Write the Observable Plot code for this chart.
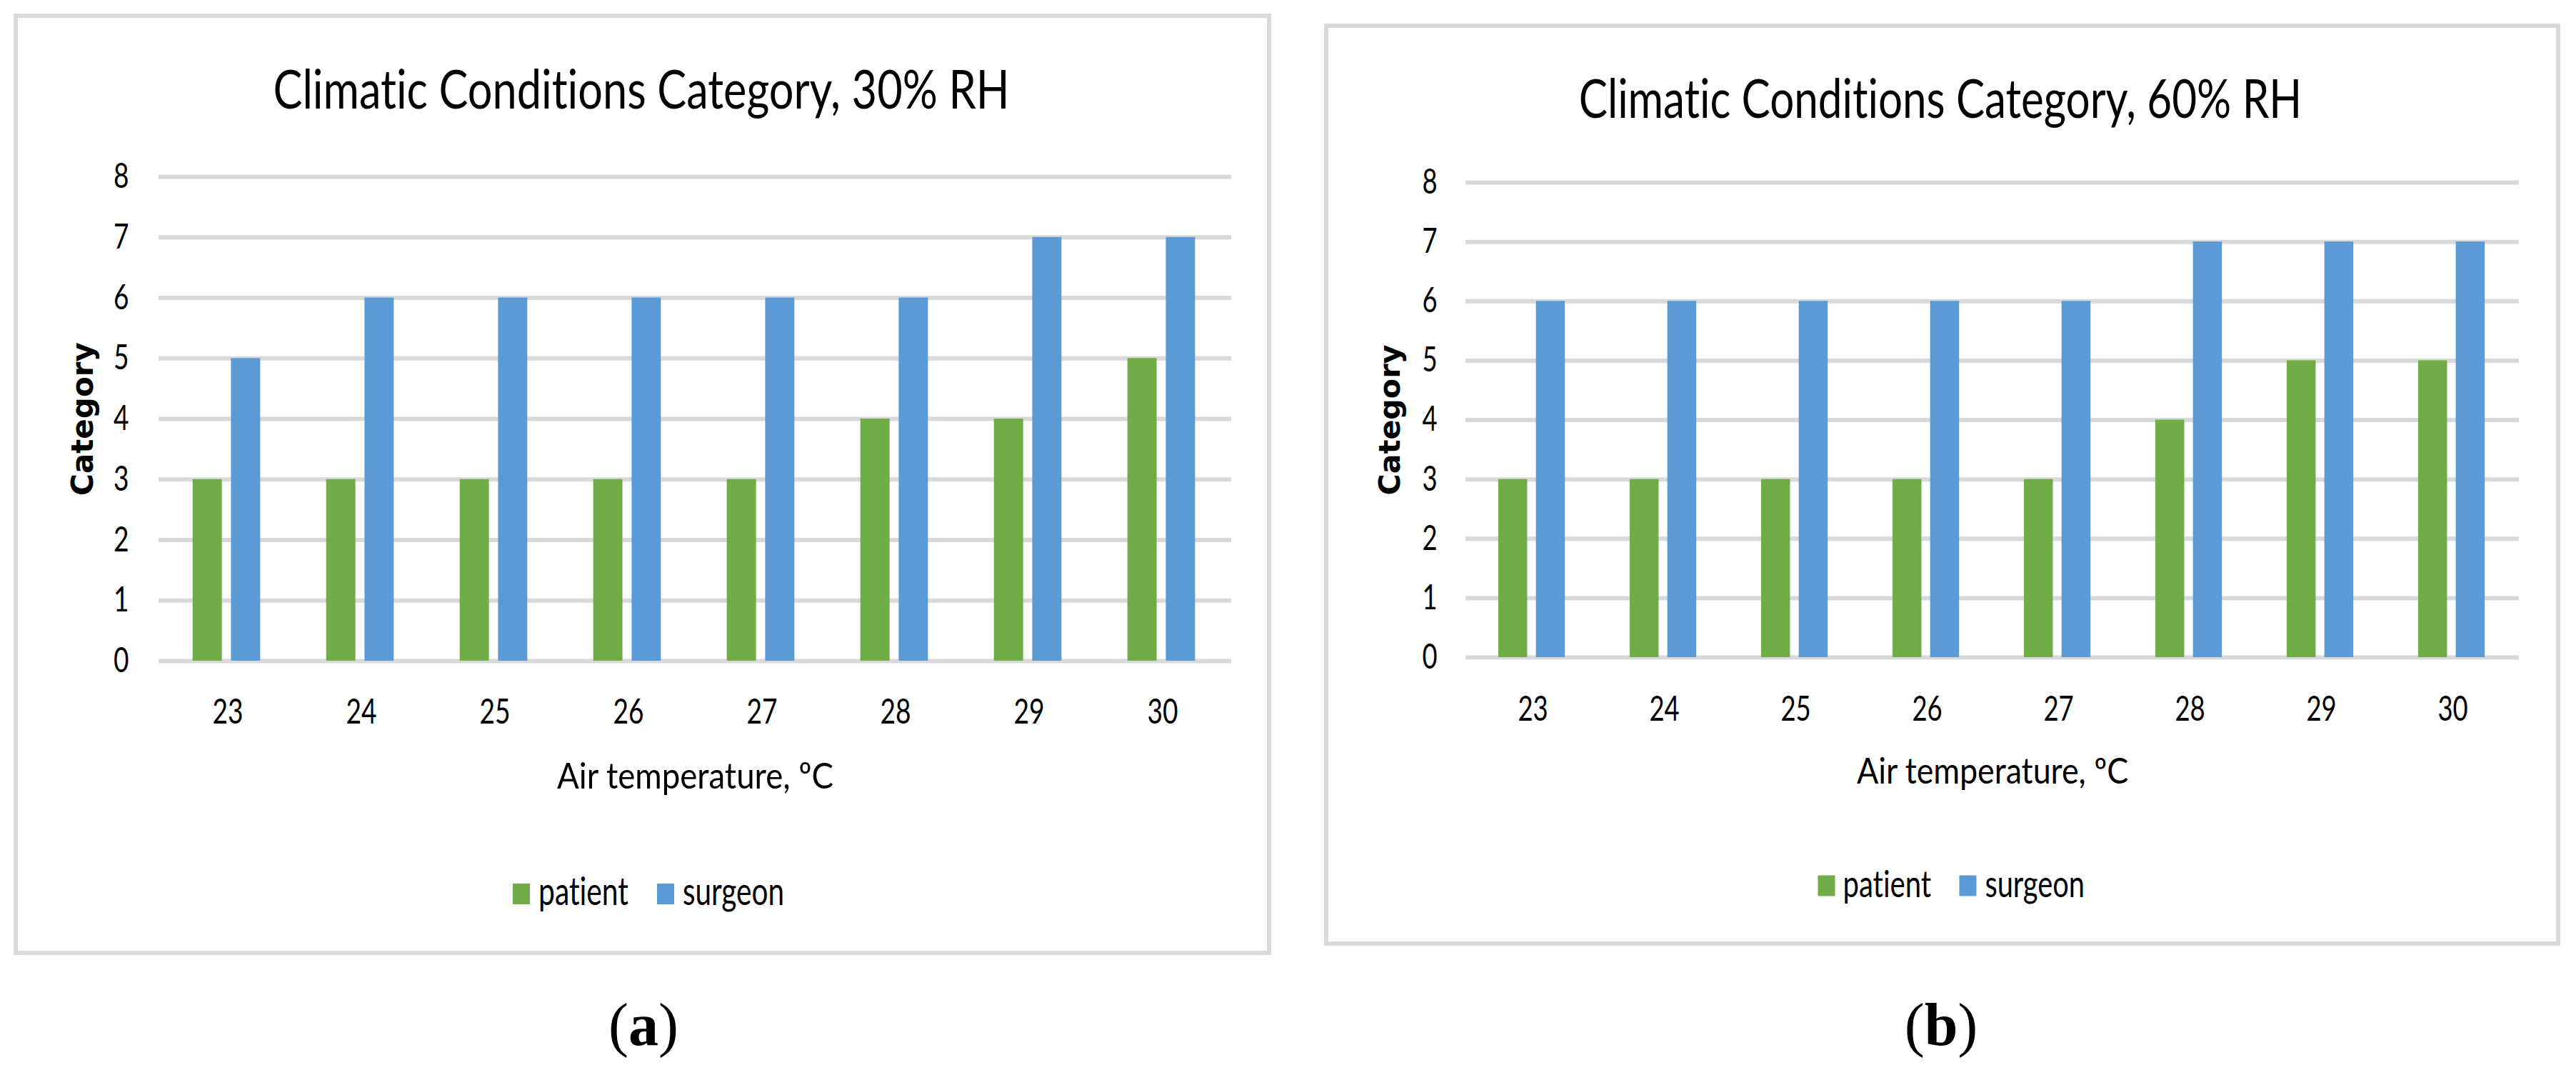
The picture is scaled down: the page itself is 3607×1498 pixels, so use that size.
<!DOCTYPE html>
<html><head><meta charset="utf-8">
<script src="https://cdn.jsdelivr.net/npm/d3@7"></script>
<script src="https://cdn.jsdelivr.net/npm/@observablehq/plot@0.6"></script>
<style>
body{margin:0;background:#fff;}
#page{position:relative;width:3607px;height:1498px;overflow:hidden;background:#fff;font-family:Lato,"Open Sans",sans-serif;color:#000;font-variant-ligatures:none;font-feature-settings:"liga" 0,"clig" 0,"dlig" 0;}
#page *, #page svg text{font-variant-ligatures:none;font-feature-settings:"liga" 0,"clig" 0,"dlig" 0;}
.box{position:absolute;border:6px solid #d9d9d9;box-sizing:border-box;}
.title{position:absolute;transform:translate(-50%,-50%);white-space:nowrap;line-height:1;}
.legend{position:absolute;transform:translate(-50%,-50%);display:flex;align-items:center;white-space:nowrap;line-height:1;}
.sw{display:inline-block;}
.item{display:flex;align-items:center;}
.lt{display:inline-block;overflow:visible;white-space:nowrap;}
.lt span{display:inline-block;transform-origin:0 50%;}
.cap{position:absolute;transform:translate(-50%,-50%);font-family:"Liberation Serif","DejaVu Serif",serif;font-size:84px;line-height:1;white-space:nowrap;}
.plotwrap{position:absolute;}
</style></head><body><div id="page"></div>
<script>
// ---- data ----
const temperatures = [23, 24, 25, 26, 27, 28, 29, 30];
const patient30 = [3, 3, 3, 3, 3, 4, 4, 5];
const surgeon30 = [5, 6, 6, 6, 6, 6, 7, 7];
const patient60 = [3, 3, 3, 3, 3, 4, 5, 5];
const surgeon60 = [6, 6, 6, 6, 6, 7, 7, 7];
const seriesNames = ["patient", "surgeon"];
const seriesColors = ["#70AD47", "#5B9BD5"];
const yTicks = [0, 1, 2, 3, 4, 5, 6, 7, 8];
const titles = ["Climatic Conditions Category, 30% RH", "Climatic Conditions Category, 60% RH"];
const xLabel = "Air temperature, ºC";
const yLabel = "Category";
const captionLetters = ["a", "b"];

// ---- layout (page pixels) ----
const layouts = [
  {s:1, box:[19,19,1780,1337], gx0:222, gx1:1724, gy8:247, gy0:925, tickTop:978, labY:1087, catX:116, ytickR:180,
   svg:[40,180,1760,1150], title:[898,123], legend:[908,1247], cap:[901,1435]},
  {s:0.982, box:[1854,33,3585,1324], gx0:2052, gx1:3527, gy8:255, gy0:920, tickTop:974, labY:1080, catX:1946, ytickR:2012,
   svg:[1870,190,3570,1140], title:[2717,136], legend:[2732,1236], cap:[2718,1435]}
];
const panels = [[patient30, surgeon30], [patient60, surgeon60]];
const page = document.getElementById("page");
const FONT = 'Lato,"Open Sans",sans-serif';

function el(tag, cls, parent) { const e = document.createElement(tag); if (cls) e.className = cls; (parent||page).appendChild(e); return e; }

panels.forEach((series, i) => {
  const L = layouts[i], s = L.s;
  const box = el("div", "box");
  Object.assign(box.style, {left: L.box[0]+"px", top: L.box[1]+"px", width: (L.box[2]-L.box[0])+"px", height: (L.box[3]-L.box[1])+"px"});

  // title, condensed to the reference width
  const t = el("div", "title"); t.textContent = titles[i];
  Object.assign(t.style, {left: L.title[0]+"px", top: L.title[1]+"px", fontSize: (76*s)+"px"});
  const tw = t.getBoundingClientRect().width;
  t.style.transform = `translate(-50%,-50%) scaleX(${(1031*s)/tw})`;

  const rows = [];
  seriesNames.forEach((name, k) => temperatures.forEach((tp, j) => rows.push({temp: tp, series: name, value: series[k][j]})));

  const W = L.svg[2]-L.svg[0], H = L.svg[3]-L.svg[1];
  const mL = L.gx0 - L.svg[0], mR = L.svg[2] - L.gx1, mT = L.gy8 - L.svg[1], mB = L.svg[3] - L.gy0;
  const bw = (L.gx1 - L.gx0) / temperatures.length;
  const barW = 0.222 * bw;
  const offs = [0.238, 0.524];
  const tickFs = 49*s;

  const plot = Plot.plot({
    width: W, height: H,
    marginLeft: mL, marginRight: mR, marginTop: mT, marginBottom: mB,
    style: {fontFamily: FONT, fontSize: tickFs+"px", color: "#000", background: "transparent", overflow: "visible", fontVariantLigatures: "none"},
    x: {domain: temperatures, padding: 0, label: null},
    y: {domain: [0, 8], label: null},
    color: {domain: seriesNames, range: seriesColors},
    marks: [
      Plot.gridY(yTicks, {stroke: "#d9d9d9", strokeOpacity: 1, strokeWidth: 6}),
      ...seriesNames.map((name, k) => Plot.barY(rows.filter(d => d.series === name), {
        x: "temp", y: "value", fill: "series",
        insetLeft: offs[k]*bw, insetRight: bw - offs[k]*bw - barW
      })),
      Plot.axisX({tickSize: 0, tickPadding: L.tickTop - L.gy0, fontSize: tickFs, label: null}),
      Plot.axisY({ticks: yTicks, tickSize: 0, tickPadding: L.gx0 - L.ytickR, fontSize: tickFs, label: null, tickFormat: d => String(d)}),
      Plot.text([yLabel], {frameAnchor: "left", dx: L.catX - L.gx0, rotate: -90, textAnchor: "middle", lineAnchor: "middle",
        fontSize: 42*s, fontWeight: "bold", fontFamily: "DejaVu Sans", fill: "#000"}),
      Plot.text([xLabel], {frameAnchor: "bottom", dy: L.labY - L.gy0, textAnchor: "middle", lineAnchor: "middle", fontSize: 51*s, fill: "#000"})
    ]
  });
  const wrap = el("div", "plotwrap");
  Object.assign(wrap.style, {left: L.svg[0]+"px", top: L.svg[1]+"px"});
  wrap.appendChild(plot);

  // condense svg texts horizontally
  const texts = Array.from(plot.querySelectorAll("text"));
  let kTick = null;
  texts.forEach(tx => { if (kTick == null && tx.textContent === "23") kTick = (43*s) / tx.getComputedTextLength(); });
  if (kTick == null) kTick = 0.76;
  texts.forEach(tx => {
    const content = tx.textContent;
    if (content === yLabel) return;
    const len = tx.getComputedTextLength();
    if (!len) return;
    const target = content === xLabel ? 387*s : len*kTick;
    tx.setAttribute("textLength", target.toFixed(2));
    tx.setAttribute("lengthAdjust", "spacingAndGlyphs");
  });

  // legend
  const lg = el("div", "legend");
  Object.assign(lg.style, {left: L.legend[0]+"px", top: L.legend[1]+"px", fontSize: (54*s)+"px"});
  const legendTargets = [126*s, 142*s];
  seriesNames.forEach((name, k) => {
    const it = el("span", "item", lg);
    if (k > 0) it.style.marginLeft = (40*s)+"px";
    const sw = el("span", "sw", it);
    Object.assign(sw.style, {background: seriesColors[k], width: (24*s)+"px", height: (29*s)+"px", marginRight: (12*s)+"px", marginTop: (8*s)+"px"});
    const outer = el("span", "lt", it);
    const inner = el("span", "", outer); inner.textContent = name;
    const w = inner.getBoundingClientRect().width;
    inner.style.transform = `scaleX(${legendTargets[k]/w})`;
    outer.style.width = legendTargets[k]+"px";
  });

  const c = el("div", "cap");
  Object.assign(c.style, {left: L.cap[0]+"px", top: L.cap[1]+"px"});
  c.append("(");
  const b = document.createElement("b"); b.textContent = captionLetters[i]; c.appendChild(b);
  c.append(")");
});
</script>
</body></html>
